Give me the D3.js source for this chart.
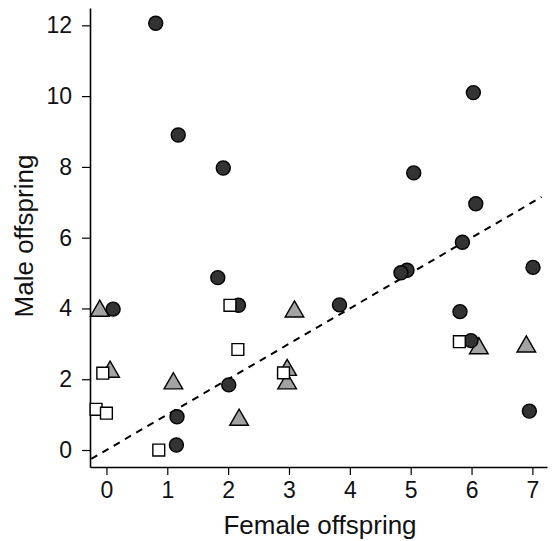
<!DOCTYPE html>
<html>
<head>
<meta charset="utf-8">
<script src="https://cdn.jsdelivr.net/npm/d3@7"></script>
<style>
  html, body { margin: 0; padding: 0; background: #fff; }
  svg { display: block; }
</style>
</head>
<body>
<svg id="chart" width="553" height="541"></svg>
<script>
// ---- data ----
const xTicks = [0, 1, 2, 3, 4, 5, 6, 7];
const yTicks = [0, 2, 4, 6, 8, 10, 12];
const xTitle = "Female offspring";
const yTitle = "Male offspring";

const circleX = [0.81, 1.18, 1.92, 6.03, 5.05, 6.07, 5.85, 4.94, 4.84, 7.01, 3.83, 1.83, 2.17, 0.11, 2.01, 1.16, 1.15, 5.81, 5.99, 6.95];
const circleY = [12.06, 8.90, 7.97, 10.10, 7.83, 6.96, 5.87, 5.08, 5.01, 5.16, 4.10, 4.87, 4.09, 3.98, 1.84, 0.94, 0.14, 3.91, 3.09, 1.10];

const triangleX = [-0.11, 0.06, 1.10, 2.18, 3.09, 2.97, 2.97, 6.12, 6.90];
const triangleY = [3.93, 2.21, 1.88, 0.85, 3.91, 2.26, 1.88, 2.87, 2.92];

const squareX = [-0.06, -0.17, 0.00, 0.86, 2.03, 2.16, 2.91, 5.80];
const squareY = [2.17, 1.15, 1.04, 0.00, 4.09, 2.84, 2.18, 3.06];

const lineX = [-0.25, 7.15]; // y = x reference line

// ---- layout ----
const svg = d3.select("#chart");
const mLeft = 90, mRight = 547, mTop = 8, mBottom = 467;

const x = d3.scaleLinear().domain([-0.27, 7.24]).range([mLeft, mRight]);
const y = d3.scaleLinear().domain([-0.48, 12.49]).range([mBottom, mTop]);

const tickFont = "Liberation Sans, Arial, sans-serif";

// axes
const xAxis = svg.append("g")
  .attr("transform", `translate(0,${mBottom})`)
  .call(d3.axisBottom(x).tickValues(xTicks).tickFormat(d3.format("d")).tickSize(8).tickSizeOuter(0).tickPadding(7));
const yAxis = svg.append("g")
  .attr("transform", `translate(${mLeft},0)`)
  .call(d3.axisLeft(y).tickValues(yTicks).tickFormat(d3.format("d")).tickSize(8).tickSizeOuter(0).tickPadding(10));

[xAxis, yAxis].forEach(g => {
  g.select(".domain").attr("stroke", "#000").attr("stroke-width", 1.6);
  g.selectAll(".tick line").attr("stroke", "#000").attr("stroke-width", 1.2);
  g.selectAll(".tick text").attr("fill", "#111").attr("font-family", tickFont).attr("font-size", 23);
});

// reference line
svg.append("line")
  .attr("x1", x(lineX[0])).attr("y1", y(lineX[0]))
  .attr("x2", x(lineX[1])).attr("y2", y(lineX[1]))
  .attr("stroke", "#000").attr("stroke-width", 2)
  .attr("stroke-dasharray", "7,6");

// triangles
const tri = d3.symbol().type(d3.symbolTriangle).size(150);
svg.append("g").selectAll("path")
  .data(triangleX.map((d, i) => [d, triangleY[i]]))
  .join("path")
  .attr("d", tri)
  .attr("transform", d => `translate(${x(d[0])},${y(d[1])})`)
  .attr("fill", "#a3a3a3").attr("stroke", "#000").attr("stroke-width", 1.4);

// circles
svg.append("g").selectAll("circle")
  .data(circleX.map((d, i) => [d, circleY[i]]))
  .join("circle")
  .attr("cx", d => x(d[0])).attr("cy", d => y(d[1])).attr("r", 7)
  .attr("fill", "#333").attr("stroke", "#000").attr("stroke-width", 1.4);

// squares
const sq = d3.symbol().type(d3.symbolSquare).size(140);
svg.append("g").selectAll("path")
  .data(squareX.map((d, i) => [d, squareY[i]]))
  .join("path")
  .attr("d", sq)
  .attr("transform", d => `translate(${x(d[0])},${y(d[1])})`)
  .attr("fill", "#fff").attr("stroke", "#000").attr("stroke-width", 1.4);

// titles
svg.append("text")
  .attr("x", 320).attr("y", 534)
  .attr("text-anchor", "middle")
  .attr("font-family", tickFont).attr("font-size", 26).attr("fill", "#111")
  .text(xTitle);
svg.append("text")
  .attr("transform", "translate(33,236) rotate(-90)")
  .attr("text-anchor", "middle")
  .attr("font-family", tickFont).attr("font-size", 26).attr("fill", "#111")
  .text(yTitle);
</script>
</body>
</html>
